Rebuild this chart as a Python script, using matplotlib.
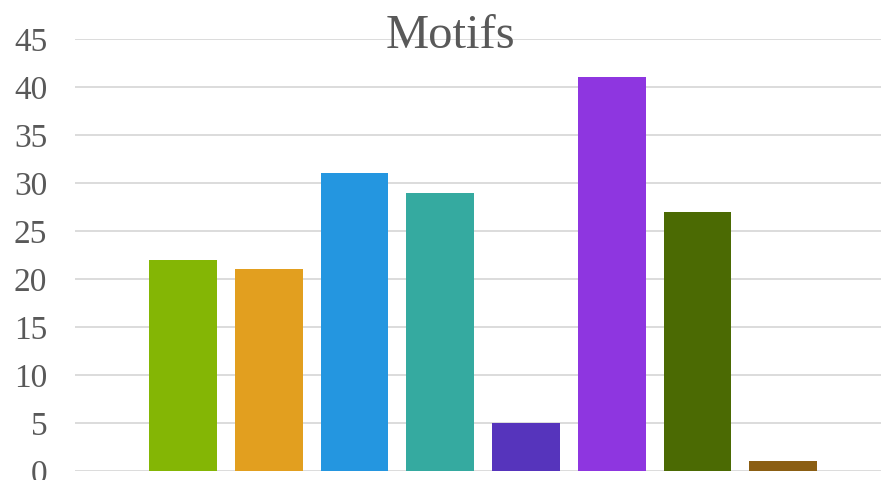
import matplotlib.pyplot as plt
import numpy as np

motifs = ['Motif 1', 'Motif 2', 'Motif 3', 'Motif 4', 'Motif 5', 'Motif 6', 'Motif 7', 'Motif 8']
counts = [22, 21, 31, 29, 5, 41, 27, 1]
colors = ['#84B605', '#E29F1F', '#2496E0', '#35AAA0', '#5634BC', '#8E36E0', '#4B6A03', '#8B5E13']
yticks = [0, 5, 10, 15, 20, 25, 30, 35, 40, 45]

plt.rcParams['font.family'] = ['Liberation Serif', 'DejaVu Serif']

fig = plt.figure(figsize=(8.81, 4.8), dpi=100)
ax = fig.add_axes([75/881, 9/480, 806/881, 432/480])

x = np.arange(len(motifs))
ax.bar(x, counts, width=0.79, color=colors, zorder=3)

ax.set_xlim(-1.26, 8.14)
ax.set_ylim(0, 45)
ax.set_yticks(yticks)
ax.set_xticks([])
ax.grid(axis='y', color='#D9D9D9', linewidth=1.3, zorder=0)
ax.tick_params(axis='y', length=0, pad=20, labelsize=24, labelcolor='#595959')
for s in ax.spines.values():
    s.set_visible(False)

fig.text(0.511, 0.925, 'Motifs', ha='center', va='center', fontsize=35, color='#595959')

fig.savefig('out.png', dpi=100)
